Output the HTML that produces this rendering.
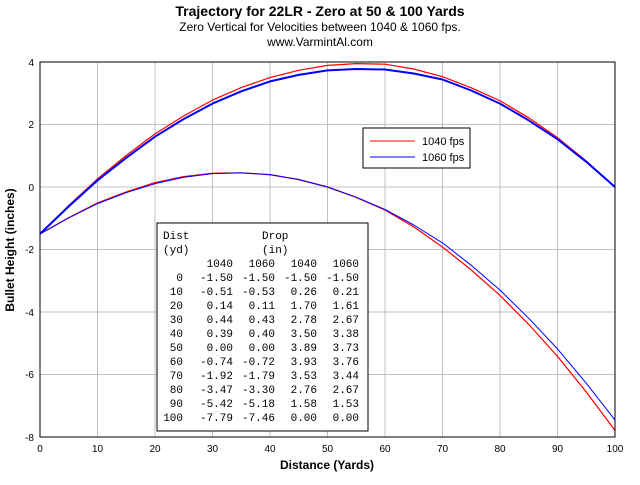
<!DOCTYPE html>
<html><head><style>body{margin:0;background:#fff}</style></head><body>
<svg width="640" height="480" xmlns="http://www.w3.org/2000/svg" style="font-family:'Liberation Sans',sans-serif">
<rect width="640" height="480" fill="#fff"/>
<text x="320" y="16" text-anchor="middle" font-size="14" font-weight="bold">Trajectory for 22LR - Zero at 50 &amp; 100 Yards</text>
<text x="320" y="31" text-anchor="middle" font-size="12">Zero Vertical for Velocities between 1040 &amp; 1060 fps.</text>
<text x="320" y="46" text-anchor="middle" font-size="12">www.VarmintAl.com</text>
<g stroke="#c0c0c0" stroke-width="1">
<line x1="97.5" y1="62" x2="97.5" y2="437"/><line x1="155" y1="62" x2="155" y2="437"/><line x1="212.5" y1="62" x2="212.5" y2="437"/><line x1="270" y1="62" x2="270" y2="437"/><line x1="327.5" y1="62" x2="327.5" y2="437"/><line x1="385" y1="62" x2="385" y2="437"/><line x1="442.5" y1="62" x2="442.5" y2="437"/><line x1="500" y1="62" x2="500" y2="437"/><line x1="557.5" y1="62" x2="557.5" y2="437"/>
<line x1="40" y1="124.5" x2="615" y2="124.5"/><line x1="40" y1="187" x2="615" y2="187"/><line x1="40" y1="249.5" x2="615" y2="249.5"/><line x1="40" y1="312" x2="615" y2="312"/><line x1="40" y1="374.5" x2="615" y2="374.5"/>
</g>
<g fill="none" stroke-linejoin="round">
<polyline stroke="#ff0000" stroke-width="1.2" points="40,233.9 68.75,217.6 97.5,202.9 126.25,191.9 155,182.6 183.75,176.6 212.5,173.25 241.25,172.8 270,174.8 298.75,179.5 327.5,187 356.25,197.4 385,210.1 413.75,226.9 442.5,247 471.25,270 500,295.4 528.75,324.4 557.5,356.4 586.25,392 615,430.4"/>
<polyline stroke="#0000ff" stroke-width="1" points="40,233.9 68.75,217.9 97.5,203.6 126.25,192.6 155,183.6 183.75,177.3 212.5,173.6 241.25,172.9 270,174.5 298.75,179.6 327.5,187 356.25,197.2 385,209.5 413.75,225 442.5,242.9 471.25,265.3 500,290.1 528.75,318.3 557.5,348.9 586.25,383.2 615,420.1"/>
<polyline stroke="#ff0000" stroke-width="1.2" points="40,233.9 68.75,205.5 97.5,178.9 126.25,155.5 155,133.9 183.75,115.9 212.5,100.1 241.25,87.6 270,77.6 298.75,70.3 327.5,65.4 356.25,63.6 385,64.2 413.75,69 442.5,76.7 471.25,87.8 500,100.75 528.75,117.8 557.5,137.6 586.25,161 615,187"/>
<polyline stroke="#0000ff" stroke-width="2" points="40,233.9 68.75,206.4 97.5,180.4 126.25,157.8 155,136.7 183.75,119 212.5,103.6 241.25,91.3 270,81.4 298.75,74.9 327.5,70.4 356.25,69 385,69.5 413.75,73.5 442.5,79.5 471.25,90.5 500,103.6 528.75,120.4 557.5,139.2 586.25,161.8 615,187"/>
</g>
<rect x="40" y="62" width="575" height="375" fill="none" stroke="#000"/>
<g font-size="10" text-anchor="end">
<text x="34" y="66">4</text><text x="34" y="128">2</text><text x="34" y="191">0</text><text x="34" y="253">-2</text><text x="34" y="316">-4</text><text x="34" y="378">-6</text><text x="34" y="441">-8</text>
</g>
<g font-size="10" text-anchor="middle">
<text x="40" y="452">0</text><text x="97.5" y="452">10</text><text x="155" y="452">20</text><text x="212.5" y="452">30</text><text x="270" y="452">40</text><text x="327.5" y="452">50</text><text x="385" y="452">60</text><text x="442.5" y="452">70</text><text x="500" y="452">80</text><text x="557.5" y="452">90</text><text x="615" y="452">100</text>
</g>
<text x="327" y="469" text-anchor="middle" font-size="12" font-weight="bold">Distance (Yards)</text>
<text transform="translate(14,250) rotate(-90)" text-anchor="middle" font-size="12" font-weight="bold">Bullet Height (inches)</text>
<rect x="363" y="128" width="107" height="40" fill="#fff" stroke="#000"/>
<line x1="370" y1="141" x2="415" y2="141" stroke="#f00"/><text x="422" y="145" font-size="11">1040 fps</text>
<line x1="370" y1="157" x2="415" y2="157" stroke="#00f"/><text x="422" y="161" font-size="11">1060 fps</text>
<rect x="157" y="223" width="211" height="208" fill="#fff" stroke="#000"/>
<g font-family="'Liberation Mono',monospace" font-size="11" fill="#000">
<text x="163" y="239">Dist</text><text x="262" y="239">Drop</text>
<text x="163" y="253">(yd)</text><text x="262" y="253">(in)</text>
<g text-anchor="end">
<text y="267"><tspan x="233">1040</tspan><tspan x="275">1060</tspan><tspan x="317">1040</tspan><tspan x="359">1060</tspan></text>
<text y="281"><tspan x="183">0</tspan><tspan x="233">-1.50</tspan><tspan x="275">-1.50</tspan><tspan x="317">-1.50</tspan><tspan x="359">-1.50</tspan></text>
<text y="295"><tspan x="183">10</tspan><tspan x="233">-0.51</tspan><tspan x="275">-0.53</tspan><tspan x="317">0.26</tspan><tspan x="359">0.21</tspan></text>
<text y="309"><tspan x="183">20</tspan><tspan x="233">0.14</tspan><tspan x="275">0.11</tspan><tspan x="317">1.70</tspan><tspan x="359">1.61</tspan></text>
<text y="323"><tspan x="183">30</tspan><tspan x="233">0.44</tspan><tspan x="275">0.43</tspan><tspan x="317">2.78</tspan><tspan x="359">2.67</tspan></text>
<text y="337"><tspan x="183">40</tspan><tspan x="233">0.39</tspan><tspan x="275">0.40</tspan><tspan x="317">3.50</tspan><tspan x="359">3.38</tspan></text>
<text y="351"><tspan x="183">50</tspan><tspan x="233">0.00</tspan><tspan x="275">0.00</tspan><tspan x="317">3.89</tspan><tspan x="359">3.73</tspan></text>
<text y="365"><tspan x="183">60</tspan><tspan x="233">-0.74</tspan><tspan x="275">-0.72</tspan><tspan x="317">3.93</tspan><tspan x="359">3.76</tspan></text>
<text y="379"><tspan x="183">70</tspan><tspan x="233">-1.92</tspan><tspan x="275">-1.79</tspan><tspan x="317">3.53</tspan><tspan x="359">3.44</tspan></text>
<text y="393"><tspan x="183">80</tspan><tspan x="233">-3.47</tspan><tspan x="275">-3.30</tspan><tspan x="317">2.76</tspan><tspan x="359">2.67</tspan></text>
<text y="407"><tspan x="183">90</tspan><tspan x="233">-5.42</tspan><tspan x="275">-5.18</tspan><tspan x="317">1.58</tspan><tspan x="359">1.53</tspan></text>
<text y="421"><tspan x="183">100</tspan><tspan x="233">-7.79</tspan><tspan x="275">-7.46</tspan><tspan x="317">0.00</tspan><tspan x="359">0.00</tspan></text>
</g>
</g>
</svg>
</body></html>
